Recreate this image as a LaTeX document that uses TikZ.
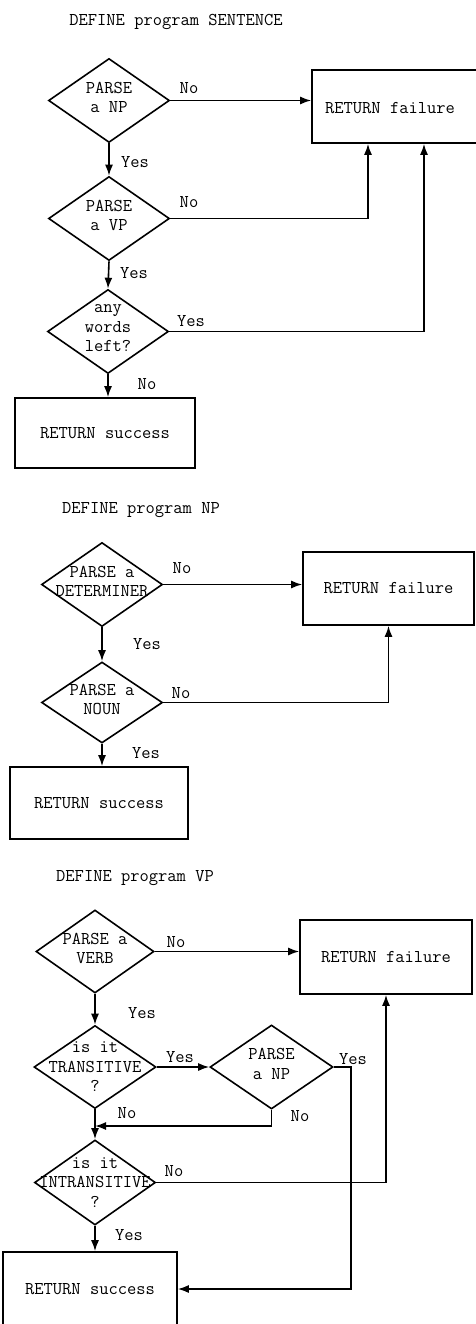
\documentclass[tikz,border=0pt]{standalone}
\usepackage{tikz}
\usetikzlibrary{shapes.geometric,arrows.meta}

\begin{document}
\begin{tikzpicture}[x=1pt,y=-1pt,line width=1.6pt,
        >={Latex[length=11pt,width=8pt]},
        every node/.style={font=\ttfamily\fontsize{18}{19.5}\selectfont},
        decision/.style={draw,diamond,inner sep=0pt,minimum width=121pt,minimum height=84pt},
        dtext/.style={align=center,inner sep=0pt,yshift=3pt},
        endbox/.style={draw,rectangle,inner sep=0pt},
        lab/.style={inner sep=0pt}]
        \useasboundingbox (0,0) rectangle (475,1324);

        \node (title1) at (176,22) {DEFINE program SENTENCE};
        \node[decision] (d1) at (109,100.5) {};
        \node[dtext] (d1t) at (d1) {PARSE\\a NP};
        \node[decision] (d2) at (109,218.5) {};
        \node[dtext] (d2t) at (d2) {PARSE\\a VP};
        \node[decision] (d3) at (108,331.5) {};
        \node[dtext] (d3t) at (d3) {any\\words\\left?};
        \node[endbox,minimum width=174pt,minimum height=73pt] (f1) at (399,106.5) {};
        \node (f1t) at (390,108) {RETURN failure};
        \node[endbox,minimum width=180pt,minimum height=70pt] (s1) at (105,433) {RETURN success};
        \node[lab] (no1) at (189,88) {No};
        \node[lab] (yes1) at (135,162) {Yes};
        \node[lab] (no2) at (189,202) {No};
        \node[lab] (yes2) at (134,273) {Yes};
        \node[lab] (yes3) at (191,321) {Yes};
        \node[lab] (no3) at (147,384) {No};
        \draw[->] (d1.east) -- (d1.east -| f1.west);
        \draw[->] (d1.south) -- (d2.north);
        \draw[->] (d2.east) -| ([xshift=-31pt]f1.south);
        \draw[->] (d2.south) -- (d3.north);
        \draw[->] (d3.east) -| ([xshift=25pt]f1.south);
        \draw[->] (d3.south) -- (d3.south |- s1.north);

        \node (title2) at (141,510) {DEFINE program NP};
        \node[decision] (d4) at (102,584.5) {};
        \node[dtext] (d4t) at (d4) {PARSE a\\DETERMINER};
        \node[decision,minimum height=81pt] (d5) at (102,702.5) {};
        \node[dtext] (d5t) at (d5) {PARSE a\\NOUN};
        \node[endbox,minimum width=171pt,minimum height=73pt] (f2) at (388.5,588.5) {RETURN failure};
        \node[endbox,minimum width=178pt,minimum height=72pt] (s2) at (99,803) {RETURN success};
        \node[lab] (no4) at (182,568) {No};
        \node[lab] (yes4) at (147,644) {Yes};
        \node[lab] (no5) at (181,693) {No};
        \node[lab] (yes5) at (146,753) {Yes};
        \draw[->] (d4.east) -- (d4.east -| f2.west);
        \draw[->] (d4.south) -- (d5.north);
        \draw[->] (d5.east) -| (f2.south);
        \draw[->] (d5.south) -- (d5.south |- s2.north);

        \node (title3) at (135,878) {DEFINE program VP};
        \node[decision,minimum width=118pt,minimum height=83pt] (d6) at (95,951.5) {};
        \node[dtext] (d6t) at (d6) {PARSE a\\VERB};
        \node[decision,minimum width=122pt,minimum height=83pt] (d7) at (95,1067) {};
        \node[dtext,yshift=-3pt] (d7t) at (d7) {is it\\TRANSITIVE\\?};
        \node[decision,minimum width=123pt] (d8) at (271.5,1067) {};
        \node[dtext] (d8t) at (d8) {PARSE\\a NP};
        \node[decision,minimum height=85pt] (d9) at (95,1182.5) {};
        \node[dtext,yshift=-3pt] (d9t) at (d9) {is it\\INTRANSITIVE\\?};
        \node[endbox,minimum width=172pt,minimum height=74pt] (f3) at (386,957) {RETURN failure};
        \node[endbox,minimum width=174pt,minimum height=74pt] (s3) at (90,1289) {RETURN success};
        \coordinate (join) at (95,1126);
        \node[lab] (no6) at (176,942) {No};
        \node[lab] (yes6) at (142,1013) {Yes};
        \node[lab] (yes7) at (180,1057) {Yes};
        \node[lab] (yes8) at (353,1059) {Yes};
        \node[lab] (no7) at (127,1113) {No};
        \node[lab] (no8) at (300,1116) {No};
        \node[lab] (no9) at (174,1171) {No};
        \node[lab] (yes9) at (129,1235) {Yes};
        \draw[->] (d6.east) -- (d6.east -| f3.west);
        \draw[->] (d6.south) -- (d7.north);
        \draw[->] (d7.east) -- (d8.west);
        \draw[->] (d8.east) -- ++(17,0) |- (s3.east);
        \draw[->] (d8.south) |- (join);
        \draw (d7.south) -- (join);
        \draw[->] (join) -- (d9.north);
        \draw[->] (d9.east) -| (f3.south);
        \draw[->] (d9.south) -- (d9.south |- s3.north);
    \end{tikzpicture}
\end{document}
